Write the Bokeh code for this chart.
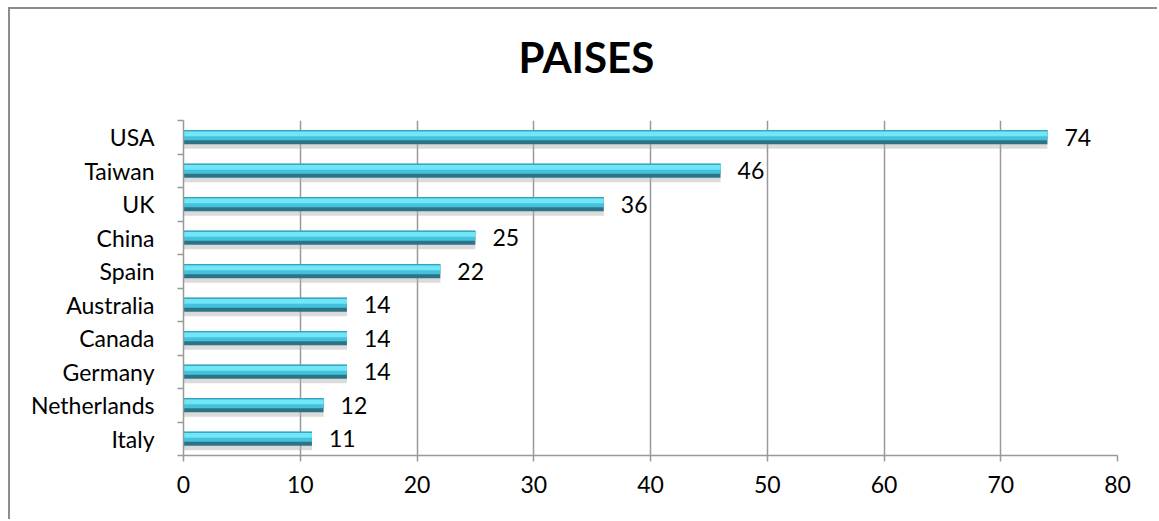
from bokeh.plotting import figure
from bokeh.models import Range1d, FixedTicker, ColumnDataSource
from bokeh.transform import dodge
from bokeh.core.properties import value
from bokeh.embed import file_html
from bokeh.resources import INLINE

countries = ["USA", "Taiwan", "UK", "China", "Spain", "Australia", "Canada", "Germany", "Netherlands", "Italy"]
counts = [74, 46, 36, 25, 22, 14, 14, 14, 12, 11]
x_ticks = [0, 10, 20, 30, 40, 50, 60, 70, 80]
title_text = "PAISES"

n = len(countries)
ypos = [n - 1 - i + 0.5 for i in range(n)]
src = ColumnDataSource(dict(y=ypos, v=counts, lab=[str(c) for c in counts]))

FONT = "Lato"
GRID = "#999999"

p = figure(width=1149, height=512, output_backend="svg", toolbar_location=None,
           x_range=Range1d(0, 80), y_range=Range1d(0, n),
           min_border_left=173, min_border_right=42, min_border_top=111, min_border_bottom=66)
p.styles = {"margin-left": "8px", "margin-top": "7px",
            "border-left": "2px solid #8c8c8c", "border-top": "2px solid #8c8c8c"}
p.outline_line_color = None
p.background_fill_color = "white"
p.border_fill_color = "white"

# a trailing blank line lifts the title away from the plot frame
p.title.text = title_text + "\n "
p.title.align = "left"
p.title.offset = 335
p.title.standoff = 8
p.title.text_line_height = 0.7
p.title.text_font = FONT
p.title.text_font_size = "42px"
p.title.text_font_style = "bold"
p.title.text_color = "black"

# x axis
p.xaxis.ticker = FixedTicker(ticks=x_ticks, minor_ticks=[])
p.xaxis.axis_line_color = GRID
p.xaxis.axis_line_width = 1.5
p.xaxis.major_tick_line_color = GRID
p.xaxis.major_tick_line_width = 1.5
p.xaxis.major_tick_out = 6
p.xaxis.major_tick_in = 0
p.xaxis.major_label_text_font = FONT
p.xaxis.major_label_text_font_size = "23px"
p.xaxis.major_label_text_color = "black"
p.xaxis.major_label_standoff = 14

# y axis: labels at centers, minor ticks at boundaries
p.yaxis.ticker = FixedTicker(ticks=ypos, minor_ticks=[float(i) for i in range(n + 1)])
p.yaxis.major_label_overrides = {yv: c for yv, c in zip(ypos, countries)}
p.yaxis.axis_line_color = GRID
p.yaxis.axis_line_width = 1.5
p.yaxis.major_tick_line_color = None
p.yaxis.major_tick_out = 0
p.yaxis.major_tick_in = 0
p.yaxis.minor_tick_line_color = GRID
p.yaxis.minor_tick_line_width = 1.5
p.yaxis.minor_tick_out = 6
p.yaxis.minor_tick_in = 0
p.yaxis.major_label_text_font = FONT
p.yaxis.major_label_text_font_size = "23px"
p.yaxis.major_label_text_color = "black"
p.yaxis.major_label_standoff = 23

p.xgrid.ticker = FixedTicker(ticks=x_ticks)
p.xgrid.grid_line_color = GRID
p.xgrid.grid_line_width = 1.5
p.ygrid.grid_line_color = None

# bars (layered strips for a bevelled look); bar height = 0.42 of a category
u = 0.42 / 14.0  # one pixel of bar height in data units
# shadow
p.hbar(y=dodge("y", -0.21 - 2 * u, range=p.y_range), left=0, right="v", height=5 * u, source=src,
       fill_color="#b0b0b0", fill_alpha=0.45, line_color=None)
# dark base
p.hbar(y="y", left=0, right="v", height=0.42, source=src, fill_color="#2c7386", line_color=None)
# mid body
p.hbar(y=dodge("y", 0.21 - 5 * u, range=p.y_range), left=0, right="v", height=10 * u, source=src,
       fill_color="#45c2db", line_color=None)
# light upper part
p.hbar(y=dodge("y", 0.21 - 3.5 * u, range=p.y_range), left=0, right="v", height=5 * u, source=src,
       fill_color="#72e6f6", line_color=None)
# top edge
p.hbar(y=dodge("y", 0.21 - 0.5 * u, range=p.y_range), left=0, right="v", height=1 * u, source=src,
       fill_color="#2a9cbc", line_color=None)

# value labels
p.text(x="v", y="y", text="lab", source=src, x_offset=17, text_baseline="middle", text_align="left",
       text_font=value(FONT), text_font_size="23px", text_color="black")

open("out.html", "w").write(file_html(p, INLINE))
